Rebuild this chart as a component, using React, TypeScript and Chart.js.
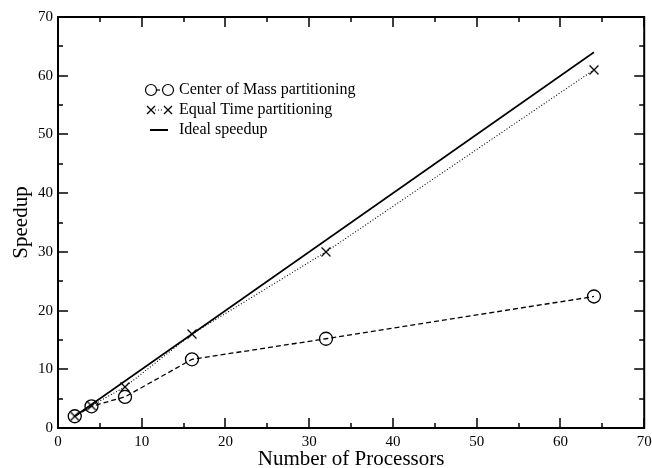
import React, { useEffect, useRef } from "react";
import { Chart, registerables } from "chart.js";
Chart.register(...registerables);

const processors = [2, 4, 8, 16, 32, 64];
const centerOfMass = [2.0, 3.7, 5.3, 11.7, 15.2, 22.4];
const equalTime = [2.0, 3.8, 7.0, 16.0, 30.0, 61.0];
const idealX = [2, 64];
const idealY = [2, 64];
const xTicks = [0, 10, 20, 30, 40, 50, 60, 70];
const yTicks = [0, 10, 20, 30, 40, 50, 60, 70];
const legendLabels = ["Center of Mass partitioning", "Equal Time partitioning", "Ideal speedup"];
const xTitle = "Number of Processors";
const yTitle = "Speedup";

const FONT = '"Liberation Serif", "DejaVu Serif", serif';

function drawX(ctx: CanvasRenderingContext2D, x: number, y: number, r: number) {
  ctx.beginPath();
  ctx.moveTo(x - r, y - r);
  ctx.lineTo(x + r, y + r);
  ctx.moveTo(x + r, y - r);
  ctx.lineTo(x - r, y + r);
  ctx.stroke();
}

const framePlugin = {
  id: "frameTicks",
  afterDraw(chart: any) {
    const { ctx, chartArea: a, scales } = chart;
    const xs = scales.x;
    const ys = scales.y;
    ctx.save();
    ctx.strokeStyle = "#000";
    ctx.lineWidth = 2;
    ctx.strokeRect(a.left, a.top, a.right - a.left, a.bottom - a.top);
    ctx.lineWidth = 1.5;
    for (let v = 0; v <= 70; v += 5) {
      const len = v % 10 === 0 ? 10 : 5;
      const px = Math.round(xs.getPixelForValue(v));
      ctx.beginPath();
      ctx.moveTo(px, a.bottom);
      ctx.lineTo(px, a.bottom - len);
      ctx.moveTo(px, a.top);
      ctx.lineTo(px, a.top + len);
      ctx.stroke();
      const py = Math.round(ys.getPixelForValue(v));
      ctx.beginPath();
      ctx.moveTo(a.left, py);
      ctx.lineTo(a.left + len, py);
      ctx.moveTo(a.right, py);
      ctx.lineTo(a.right - len, py);
      ctx.stroke();
    }
    // axis titles
    ctx.fillStyle = "#000";
    ctx.font = `21px ${FONT}`;
    ctx.textAlign = "center";
    ctx.textBaseline = "alphabetic";
    ctx.fillText(xTitle, (a.left + a.right) / 2, 465);
    ctx.save();
    ctx.translate(27, (a.top + a.bottom) / 2);
    ctx.rotate(-Math.PI / 2);
    ctx.fillText(yTitle, 0, 0);
    ctx.restore();
    // legend
    const lx = 151;
    const rows = [90, 110, 130];
    ctx.font = `16px ${FONT}`;
    ctx.textBaseline = "middle";
    ctx.textAlign = "left";
    ctx.lineWidth = 1.2;
    ctx.setLineDash([4, 3]);
    ctx.beginPath();
    ctx.moveTo(lx + 5, rows[0]);
    ctx.lineTo(lx + 12, rows[0]);
    ctx.stroke();
    ctx.setLineDash([]);
    [lx, lx + 17].forEach((cx) => {
      ctx.beginPath();
      ctx.arc(cx, rows[0], 5.5, 0, Math.PI * 2);
      ctx.stroke();
    });
    ctx.fillText(legendLabels[0], 179, rows[0]);
    ctx.lineWidth = 1;
    ctx.setLineDash([1, 2]);
    ctx.beginPath();
    ctx.moveTo(lx + 4, rows[1]);
    ctx.lineTo(lx + 13, rows[1]);
    ctx.stroke();
    ctx.setLineDash([]);
    ctx.lineWidth = 1.3;
    drawX(ctx, lx, rows[1], 4);
    drawX(ctx, lx + 17, rows[1], 4);
    ctx.fillText(legendLabels[1], 179, rows[1]);
    ctx.lineWidth = 2;
    ctx.beginPath();
    ctx.moveTo(lx - 1, rows[2]);
    ctx.lineTo(lx + 17, rows[2]);
    ctx.stroke();
    ctx.fillText(legendLabels[2], 179, rows[2]);
    ctx.restore();
  },
};

const crossPoint = (() => {
  const c = document.createElement("canvas");
  c.width = 12;
  c.height = 12;
  const g = c.getContext("2d")!;
  g.strokeStyle = "#000";
  g.lineWidth = 1.3;
  drawX(g, 6, 6, 4.5);
  return c;
})();

export default function App() {
  const ref = useRef<HTMLCanvasElement>(null);
  useEffect(() => {
    document.body.style.margin = "0";
    const chart = new Chart(ref.current!, {
      type: "scatter",
      data: {
        datasets: [
          {
            label: legendLabels[2],
            data: idealX.map((x, i) => ({ x, y: idealY[i] })),
            showLine: true,
            borderColor: "#000",
            borderWidth: 1.6,
            pointRadius: 0,
          },
          {
            label: legendLabels[1],
            data: processors.map((x, i) => ({ x, y: equalTime[i] })),
            showLine: true,
            borderColor: "#000",
            borderWidth: 1.1,
            borderDash: [1, 2],
            pointStyle: crossPoint as any,
            pointRadius: 6,
          },
          {
            label: legendLabels[0],
            data: processors.map((x, i) => ({ x, y: centerOfMass[i] })),
            showLine: true,
            borderColor: "#000",
            borderWidth: 1.3,
            borderDash: [5, 3],
            pointStyle: "circle",
            pointRadius: 6.5,
            pointBorderWidth: 1.3,
            pointBackgroundColor: "rgba(0,0,0,0)",
            pointBorderColor: "#000",
          },
        ],
      },
      options: {
        animation: false,
        responsive: false,
        layout: { padding: { top: 17, right: 7, left: 0, bottom: 0 } },
        plugins: { legend: { display: false }, tooltip: { enabled: false } },
        scales: {
          x: {
            type: "linear",
            min: 0,
            max: 70,
            afterBuildTicks: (s: any) => {
              s.ticks = xTicks.map((v) => ({ value: v }));
            },
            afterFit: (s: any) => {
              s.height = 40;
              s.paddingLeft = 0;
              s.paddingRight = 0;
            },
            grid: { display: false, drawTicks: false },
            border: { display: false },
            ticks: { color: "#000", font: { family: FONT, size: 15 }, padding: 5, maxRotation: 0 },
          },
          y: {
            type: "linear",
            min: 0,
            max: 70,
            afterBuildTicks: (s: any) => {
              s.ticks = yTicks.map((v) => ({ value: v }));
            },
            afterFit: (s: any) => {
              s.width = 58;
              s.paddingTop = 0;
              s.paddingBottom = 0;
            },
            grid: { display: false, drawTicks: false },
            border: { display: false },
            ticks: { color: "#000", font: { family: FONT, size: 15 }, padding: 5 },
          },
        },
      },
      plugins: [framePlugin],
    });
    return () => chart.destroy();
  }, []);
  return <canvas ref={ref} width={652} height={468} style={{ display: "block" }} />;
}
